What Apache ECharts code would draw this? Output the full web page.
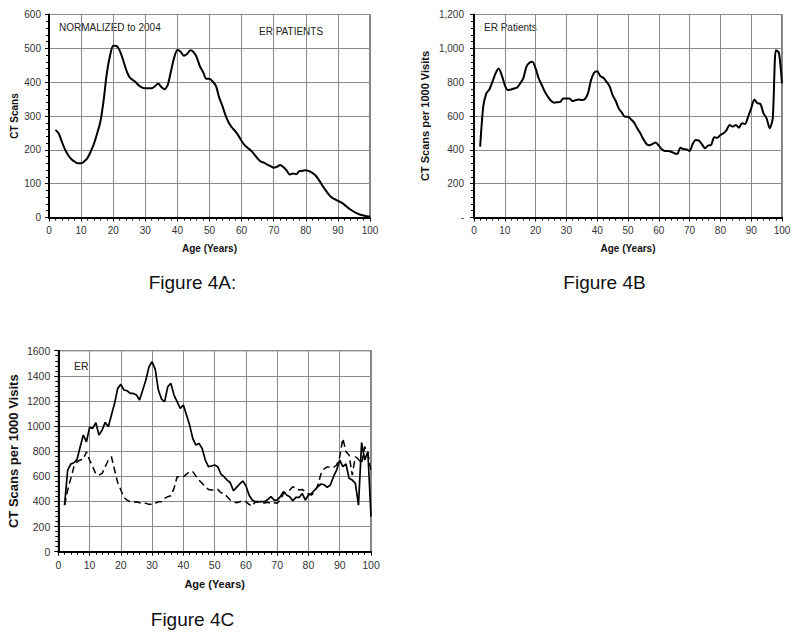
<!DOCTYPE html>
<html><head><meta charset="utf-8">
<script src="https://cdn.jsdelivr.net/npm/echarts@6/dist/echarts.min.js"></script>
<style>html,body{margin:0;padding:0;background:#fff}#c{width:800px;height:641px}</style>
</head><body><div id="c"></div><script>
// Ages (years) shared by all three figures
const ages = [2,3,4,5,6,7,8,9,10,11,12,13,14,15,16,17,18,19,20,21,22,23,24,25,26,27,28,29,30,31,32,33,34,35,36,37,38,39,40,41,42,43,44,45,46,47,48,49,50,51,52,53,54,55,56,57,58,59,60,61,62,63,64,65,66,67,68,69,70,71,72,73,74,75,76,77,78,79,80,81,82,83,84,85,86,87,88,89,90,91,92,93,94,95,96,97,98,99,100];

// Figure 4A: CT scans (normalized to 2004), ER patients
const ctScans4A = [
 259,249,224,201,184,172,165,160,160,166,
 176,195,218,248,283,345,425,478,508,507,
 494,468,438,416,407,400,390,384,382,382,
 382,388,396,386,379,392,432,473,495,490,
 478,483,494,489,474,447,430,410,410,402,
 389,355,330,302,280,266,255,242,226,213,
 205,197,186,174,165,162,156,152,147,150,
 155,149,139,127,130,128,137,138,140,137,
 132,125,112,97,83,70,60,54,49,45,
 38,30,23,17,12,8,6,4,3];

// Figure 4B: CT scans per 1000 visits, ER patients
const perVisits4B = [
 419,655,734,757,803,852,881,842,783,753,
 757,763,769,793,822,891,915,921,881,822,
 783,743,714,690,679,681,684,704,704,704,
 688,694,698,694,700,734,812,856,865,836,
 826,803,777,724,690,645,620,596,596,580,
 561,527,498,462,435,427,435,443,425,403,
 393,393,389,380,376,413,405,403,393,435,
 458,454,433,409,425,429,474,472,488,498,
 517,547,537,547,531,557,553,596,645,698,
 675,671,616,586,527,586,989,974,793];

// Figure 4C: CT scans per 1000 visits, ER (solid and dashed series)
const solid4C = [
 371,650,698,708,735,836,929,875,990,982,
 1027,929,968,1029,995,1088,1181,1300,1332,1287,
 1281,1260,1260,1247,1207,1287,1366,1472,1512,1451,
 1287,1215,1194,1313,1340,1247,1194,1141,1167,1088,
 1008,902,849,862,822,730,677,682,690,677,
 618,597,570,549,485,512,539,562,525,451,
 411,398,398,398,398,416,438,411,411,438,
 478,451,438,406,432,432,464,411,451,464,
 491,517,539,533,512,531,597,650,730,677,
 698,584,570,544,371,868,730,796,279];
const dashed4C = [
 371,491,584,677,716,730,735,796,730,677,
 618,610,624,677,730,756,650,549,491,432,
 411,398,393,398,390,385,385,377,377,385,
 398,398,424,438,446,504,597,597,597,618,
 637,637,602,570,544,517,496,491,491,496,
 470,464,438,411,398,390,398,406,398,377,
 363,398,395,390,388,393,385,390,385,411,
 464,470,491,517,504,491,496,478,459,451,
 478,530,620,660,675,675,670,690,756,902,
 796,769,610,756,735,703,836,782,640];

// Axis tick settings
const xTicks = {min:0, max:100, interval:10};
const yTicks4A = {min:0, max:600, interval:100};
const yTicks4B = {min:0, max:1200, interval:200};
const yTicks4C = {min:0, max:1600, interval:200};

const F = 'Liberation Sans, Arial, Helvetica, sans-serif';
const pairs = arr => ages.map((a,i)=>[a, arr[i]]);

function xAx(gi, fs, tfs, gap){
  return {type:'value', gridIndex:gi, min:xTicks.min, max:xTicks.max, interval:xTicks.interval,
    axisLine:{show:true,onZero:false,lineStyle:{color:'#000',width:2}},
    axisTick:{show:true,length:4,lineStyle:{color:'#000'}},
    minorTick:{show:true,splitNumber:5,length:3,lineStyle:{color:'#000'}},
    splitLine:{show:true,lineStyle:{color:'#8a8a8a',width:1}},
    axisLabel:{color:'#333',fontSize:fs,margin:8,fontFamily:F},
    name:'Age (Years)', nameLocation:'middle', nameGap:gap,
    nameTextStyle:{fontWeight:'bold',fontSize:tfs,color:'#111',fontFamily:F}};
}
function yAx(gi, t, name, fs, tfs, gap, margin, fmt){
  return {type:'value', gridIndex:gi, min:t.min, max:t.max, interval:t.interval,
    axisLine:{show:true,onZero:false,lineStyle:{color:'#000',width:2}},
    axisTick:{show:true,length:4,lineStyle:{color:'#000'}},
    minorTick:{show:true,splitNumber:5,length:3,lineStyle:{color:'#000'}},
    splitLine:{show:true,lineStyle:{color:'#8a8a8a',width:1}},
    axisLabel:{color:'#333',fontSize:fs,margin:margin,fontFamily:F,formatter:fmt},
    name:name, nameLocation:'middle', nameGap:gap,
    nameTextStyle:{fontWeight:'bold',fontSize:tfs,color:'#111',fontFamily:F}};
}
const fmtPlain = v => String(v);
const fmtB = v => v===0 ? '-' : v.toLocaleString('en-US');

const chart = echarts.init(document.getElementById('c'), null, {renderer:'svg'});
chart.setOption({
  animation:false,
  backgroundColor:'#fff',
  grid:[
    {left:49, top:14.5, width:321, height:203, show:true, borderColor:'#000', borderWidth:1, containLabel:false},
    {left:474, top:14.5, width:308, height:203, show:true, borderColor:'#000', borderWidth:1, containLabel:false},
    {left:58.3, top:350.7, width:312.7, height:201, show:true, borderColor:'#000', borderWidth:1, containLabel:false}
  ],
  xAxis:[ xAx(0,10,10,26), xAx(1,10,10,26), xAx(2,10.5,11,27) ],
  yAxis:[
    yAx(0, yTicks4A, 'CT Scans', 10, 10, 30, 8, fmtPlain),
    yAx(1, yTicks4B, 'CT Scans per 1000 Visits', 10, 11, 44, 10, fmtB),
    yAx(2, yTicks4C, 'CT Scans per 1000 Visits', 10.5, 13, 38, 8, fmtPlain)
  ],
  series:[
    {type:'line', xAxisIndex:0, yAxisIndex:0, data:pairs(ctScans4A), showSymbol:false, smooth:0.25,
     lineStyle:{color:'#000',width:2}},
    {type:'line', xAxisIndex:1, yAxisIndex:1, data:pairs(perVisits4B), showSymbol:false, smooth:0.25,
     lineStyle:{color:'#000',width:2}},
    {type:'line', xAxisIndex:2, yAxisIndex:2, data:pairs(solid4C), showSymbol:false,
     lineStyle:{color:'#000',width:1.7}},
    {type:'line', xAxisIndex:2, yAxisIndex:2, data:pairs(dashed4C), showSymbol:false,
     lineStyle:{color:'#000',width:1.5,type:[7,4]}}
  ],
  graphic:[
    {type:'text', left:59, top:22, style:{text:'NORMALIZED to 2004', font:'10px '+F, fill:'#222'}},
    {type:'text', left:259, top:26, style:{text:'ER PATIENTS', font:'10px '+F, fill:'#222'}},
    {type:'text', left:484, top:22, style:{text:'ER Patients', font:'10px '+F, fill:'#222'}},
    {type:'text', left:74, top:360, style:{text:'ER', font:'10.5px '+F, fill:'#222'}},
    {type:'text', x:192.5, y:282, style:{text:'Figure 4A:', font:'19px '+F, fill:'#111', align:'center', verticalAlign:'middle'}},
    {type:'text', x:604.5, y:282, style:{text:'Figure 4B', font:'19px '+F, fill:'#111', align:'center', verticalAlign:'middle'}},
    {type:'text', x:192.5, y:619, style:{text:'Figure 4C', font:'19px '+F, fill:'#111', align:'center', verticalAlign:'middle'}}
  ]
});
</script></body></html>
